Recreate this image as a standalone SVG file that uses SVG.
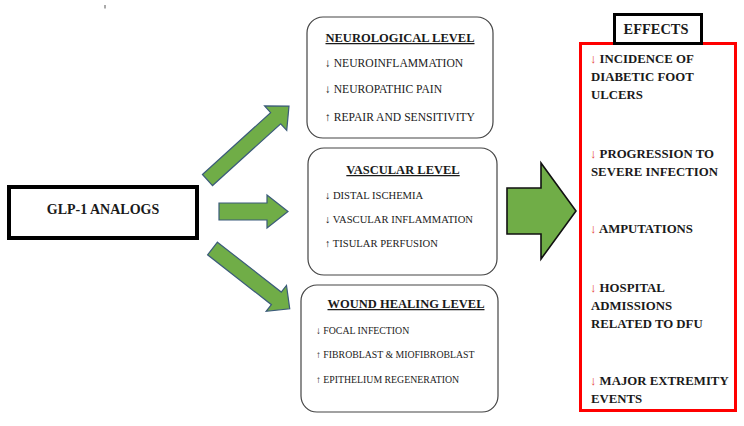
<svg xmlns="http://www.w3.org/2000/svg" width="744" height="426" viewBox="0 0 744 426">
<style>
text{font-family:"Liberation Serif","Times New Roman",serif;fill:#1a1a1a}
.ttl{font-size:12.5px;font-weight:bold;text-decoration:underline;text-anchor:middle}
.it{font-size:11.6px}
.its{font-size:10.6px}
.itw{font-size:9.8px}
.eff{font-size:12.8px;font-weight:bold}
.ra{fill:#e53935;font-weight:normal}
.lvl{fill:#fff;stroke:#454545;stroke-width:1.2}
.garrow{fill:#70AD47;stroke:#3B5B7A;stroke-width:1.2;stroke-linejoin:miter}
</style>
<rect width="744" height="426" fill="#fff"/>
<line x1="105" y1="5" x2="105" y2="8.5" stroke="#555" stroke-width="1"/>

<g id="glp1">
<rect x="9" y="187" width="188" height="51" fill="#fff" stroke="#000" stroke-width="4"/>
<text x="103" y="213.5" text-anchor="middle" style="font-size:14px;font-weight:bold">GLP-1 ANALOGS</text>
</g>

<g id="connectors">
<polygon class="garrow" transform="translate(207.5,180) rotate(-42.2)" points="0,-7.5 92,-7.5 92,-16.5 110,0 92,16.5 92,7.5 0,7.5"/>
<polygon class="garrow" transform="translate(219,211.5)" points="0,-8.5 48,-8.5 48,-16.5 69,0 48,16.5 48,8.5 0,8.5"/>
<polygon class="garrow" transform="translate(212.5,248.5) rotate(38)" points="0,-8 81,-8 81,-16.5 98,0 81,16.5 81,8 0,8"/>
<polygon points="507,188 541,188 541,163 576,211 541,259 541,234 507,234" fill="#70AD47" stroke="#111" stroke-width="1.6"/>
</g>

<g id="neurological">
<rect class="lvl" x="307" y="17" width="186" height="121" rx="16"/>
<text class="ttl" x="400" y="42">NEUROLOGICAL LEVEL</text>
<text class="it" x="325" y="66.5">↓ NEUROINFLAMMATION</text>
<text class="it" x="325" y="93">↓ NEUROPATHIC PAIN</text>
<text class="it" x="325" y="121">↑ REPAIR AND SENSITIVITY</text>
</g>

<g id="vascular">
<rect class="lvl" x="308" y="148" width="189" height="127" rx="16"/>
<text class="ttl" x="403" y="174">VASCULAR LEVEL</text>
<text class="its" x="325" y="199">↓ DISTAL ISCHEMIA</text>
<text class="its" x="325" y="223">↓ VASCULAR INFLAMMATION</text>
<text class="its" x="325" y="246.5">↑ TISULAR PERFUSION</text>
</g>

<g id="wound">
<rect class="lvl" x="301" y="285" width="197" height="127" rx="16"/>
<text class="ttl" x="406" y="308">WOUND HEALING LEVEL</text>
<text class="itw" x="316" y="333.5">↓ FOCAL INFECTION</text>
<text class="itw" x="316" y="358">↑ FIBROBLAST &amp; MIOFIBROBLAST</text>
<text class="itw" x="316" y="383">↑ EPITHELIUM REGENERATION</text>
</g>

<g id="effects">
<rect x="580.5" y="43.5" width="155" height="367" fill="#fff" stroke="#ff0000" stroke-width="3"/>
<rect x="614.5" y="14.5" width="87" height="29" fill="#fff" stroke="#000" stroke-width="3"/>
<text x="656" y="33.5" text-anchor="middle" style="font-size:14.4px;font-weight:bold">EFFECTS</text>
<text class="eff" x="590" y="62.5"><tspan class="ra">↓</tspan> INCIDENCE OF</text>
<text class="eff" x="591" y="80.5">DIABETIC FOOT</text>
<text class="eff" x="591" y="99">ULCERS</text>
<text class="eff" x="590" y="158"><tspan class="ra">↓</tspan> PROGRESSION TO</text>
<text class="eff" x="591" y="176">SEVERE INFECTION</text>
<text class="eff" x="590" y="233"><tspan class="ra">↓</tspan> AMPUTATIONS</text>
<text class="eff" x="590" y="291.5"><tspan class="ra">↓</tspan> HOSPITAL</text>
<text class="eff" x="591" y="309.5">ADMISSIONS</text>
<text class="eff" x="591" y="327.5">RELATED TO DFU</text>
<text class="eff" x="590" y="385"><tspan class="ra">↓</tspan> MAJOR EXTREMITY</text>
<text class="eff" x="591" y="403">EVENTS</text>
</g>
</svg>
